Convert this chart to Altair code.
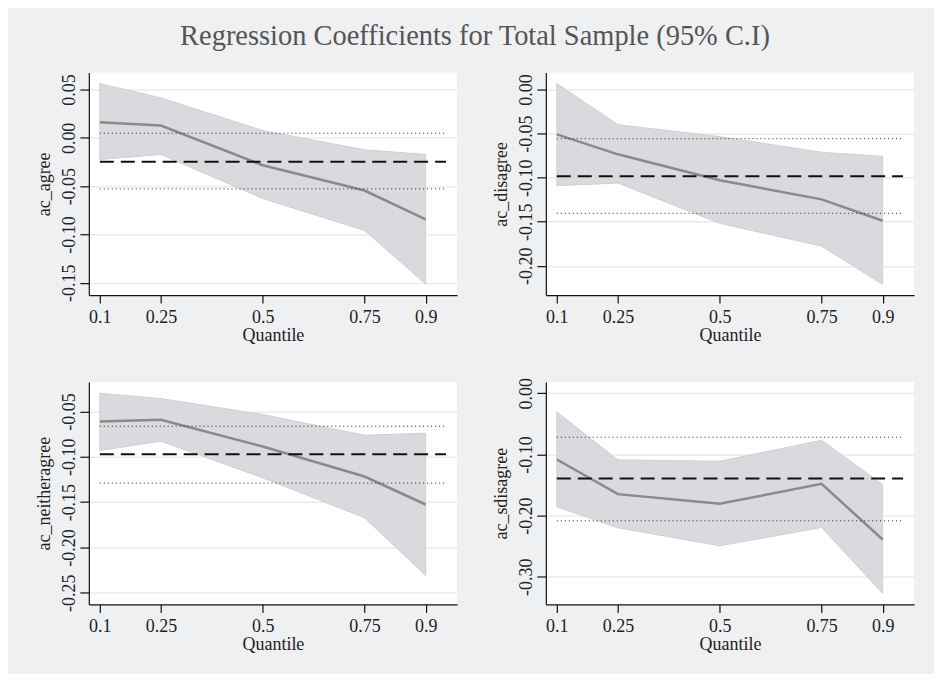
import altair as alt
import pandas as pd

# ---------------- data ----------------
quantiles = [0.1, 0.25, 0.5, 0.75, 0.9]
x_ticks = [0.1, 0.25, 0.5, 0.75, 0.9]
panel_names = ["ac_agree", "ac_disagree", "ac_neitheragree", "ac_sdisagree"]

agree_coef = [0.0162, 0.0128, -0.0283, -0.0545, -0.0845]
agree_upper = [0.0562, 0.0414, 0.0076, -0.0124, -0.0172]
agree_lower = [-0.0224, -0.0172, -0.0628, -0.0959, -0.1514]
agree_ols = [-0.0248, 0.0048, -0.0528]          # estimate, upper CI, lower CI

disagree_coef = [-0.0508, -0.0735, -0.1030, -0.1246, -0.1489]
disagree_upper = [0.0068, -0.0398, -0.0534, -0.0712, -0.0758]
disagree_lower = [-0.1091, -0.1061, -0.1519, -0.1777, -0.2212]
disagree_ols = [-0.0985, -0.0557, -0.1405]

neither_coef = [-0.0610, -0.0592, -0.0886, -0.1217, -0.1526]
neither_upper = [-0.0298, -0.0357, -0.0533, -0.0761, -0.0739]
neither_lower = [-0.0930, -0.0827, -0.1232, -0.1673, -0.2309]
neither_ols = [-0.0971, -0.0662, -0.1290]

sdis_coef = [-0.1083, -0.1649, -0.1807, -0.1481, -0.2390]
sdis_upper = [-0.0305, -0.1089, -0.1111, -0.0768, -0.1492]
sdis_lower = [-0.1856, -0.2199, -0.2493, -0.2194, -0.3272]
sdis_ols = [-0.1394, -0.0719, -0.2085]

y_domains = [[-0.1628, 0.0676], [-0.2333, 0.0193], [-0.2629, -0.0173], [-0.3451, 0.0185]]
y_ticks = [
    [0.05, 0.0, -0.05, -0.10, -0.15],
    [0.0, -0.05, -0.10, -0.15, -0.20],
    [-0.05, -0.10, -0.15, -0.20, -0.25],
    [0.0, -0.10, -0.20, -0.30],
]
x_domain = [0.073, 0.977]
ref_span = [0.1, 0.95]

TITLE = "Regression Coefficients for Total Sample (95% C.I)"
FONT = "Liberation Serif"

PW, PH = 369, 223


def panel(name, coef, lower, upper, ols, ydom, yticks):
    df = pd.DataFrame({"q": quantiles, "coef": coef, "lo": lower, "hi": upper})
    ref = pd.DataFrame({
        "x0": [ref_span[0]] * 3,
        "x1": [ref_span[1]] * 3,
        "y": ols,
        "kind": ["est", "ci", "ci"],
    })
    xs = alt.Scale(domain=x_domain, nice=False, zero=False)
    ys = alt.Scale(domain=ydom, nice=False, zero=False)
    xax = alt.Axis(values=x_ticks, labelExpr="'' + datum.value", title="Quantile", grid=False,
                   tickSize=8, labelPadding=5, titlePadding=0, labelFlush=False)
    yax = alt.Axis(values=yticks, title=name, grid=True, tickSize=9,
                   labelAngle=270, labelAlign="center", labelBaseline="bottom",
                   labelPadding=1, titlePadding=7,
                   labelExpr="replace(format(datum.value, '.2f'), '\u2212', '-')")

    band = alt.Chart(df).mark_area(color="#d9dadd", stroke="#cfd0d3", strokeWidth=1).encode(
        x=alt.X("q:Q", scale=xs, axis=xax),
        y=alt.Y("lo:Q", scale=ys, axis=yax),
        y2="hi:Q",
    )
    line = alt.Chart(df).mark_line(color="#8a8a8a", strokeWidth=2.5).encode(
        x=alt.X("q:Q", scale=xs),
        y=alt.Y("coef:Q", scale=ys),
    )
    dotted = alt.Chart(ref).transform_filter(alt.datum.kind == "ci").mark_rule(
        color="#222222", strokeWidth=1, strokeDash=[1, 3]
    ).encode(
        x=alt.X("x0:Q", scale=xs), x2="x1:Q", y=alt.Y("y:Q", scale=ys)
    )
    dashed = alt.Chart(ref).transform_filter(alt.datum.kind == "est").mark_rule(
        color="#111111", strokeWidth=2, strokeDash=[14, 7]
    ).encode(
        x=alt.X("x0:Q", scale=xs), x2="x1:Q", y=alt.Y("y:Q", scale=ys)
    )
    return alt.layer(band, line, dotted, dashed).properties(width=PW, height=PH)


p1 = panel(panel_names[0], agree_coef, agree_lower, agree_upper, agree_ols, y_domains[0], y_ticks[0])
p2 = panel(panel_names[1], disagree_coef, disagree_lower, disagree_upper, disagree_ols, y_domains[1], y_ticks[1])
p3 = panel(panel_names[2], neither_coef, neither_lower, neither_upper, neither_ols, y_domains[2], y_ticks[2])
p4 = panel(panel_names[3], sdis_coef, sdis_lower, sdis_upper, sdis_ols, y_domains[3], y_ticks[3])

chart = alt.concat(
    p1, p2, p3, p4, columns=2,
    spacing={"row": 87, "column": 89},
    bounds="flush",
    title=alt.Title(TITLE, font=FONT, fontSize=28.5, fontWeight="normal",
                    color="#555555", anchor="middle", offset=22),
).configure(
    background="#eff0f2",
    padding={"left": 27, "top": 13, "right": 20, "bottom": 20},
    font=FONT,
).configure_view(
    fill="white", stroke=None
).configure_axis(
    labelFont=FONT, titleFont=FONT, labelFontSize=18, titleFontSize=18,
    titleFontWeight="normal", labelColor="#222222", titleColor="#222222",
    domainColor="#111111", tickColor="#111111", domainWidth=1.2, tickWidth=1.2,
    gridColor="#ebebeb", gridWidth=1.5,
)

chart.save("out.html", embed_options={"renderer": "svg", "actions": False})
